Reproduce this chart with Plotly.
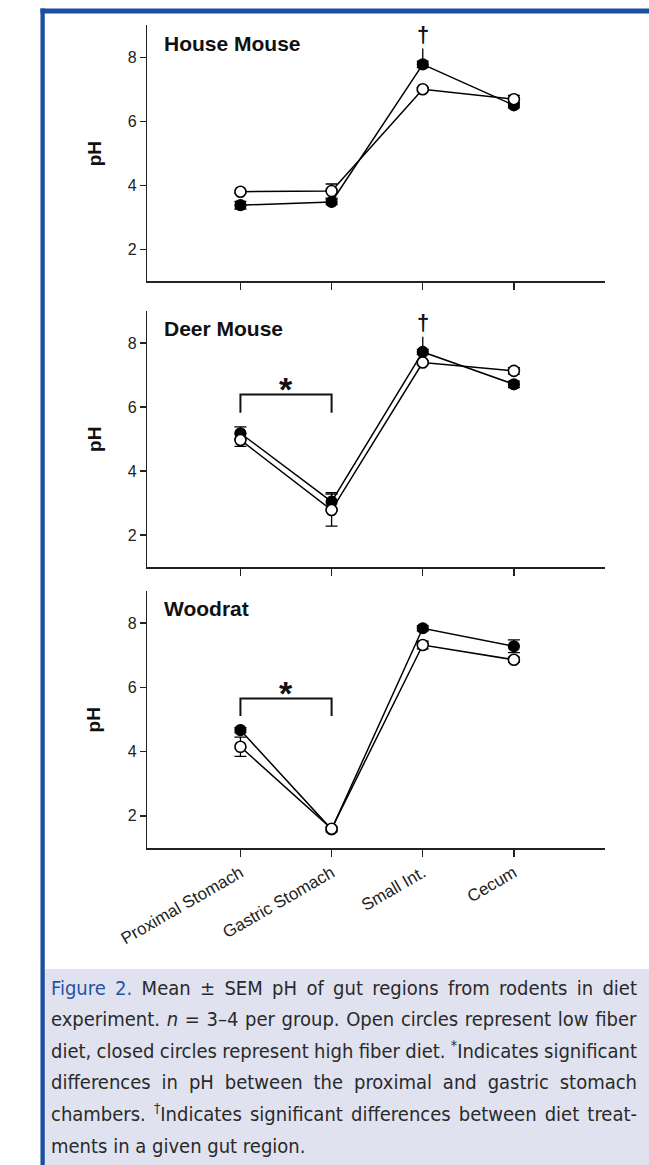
import plotly.graph_objects as go

W, H = 649, 1165

regions = ["Proximal Stomach", "Gastric Stomach", "Small Int.", "Cecum"]
panel_names = ["House Mouse", "Deer Mouse", "Woodrat"]

# low fiber diet (open circles)
house_low = [3.80, 3.82, 7.00, 6.69]
house_low_sem = [0.05, 0.22, 0.05, 0.12]
deer_low = [4.97, 2.78, 7.39, 7.13]
deer_low_sem = [0.20, 0.50, 0.05, 0.10]
wood_low = [4.15, 1.60, 7.32, 6.86]
wood_low_sem = [0.30, 0.06, 0.12, 0.08]

# high fiber diet (closed circles)
house_high = [3.38, 3.48, 7.78, 6.50]
house_high_sem = [0.12, 0.08, 0.10, 0.08]
deer_high = [5.18, 3.04, 7.72, 6.71]
deer_high_sem = [0.20, 0.28, 0.08, 0.10]
wood_high = [4.67, 1.58, 7.84, 7.28]
wood_high_sem = [0.08, 0.08, 0.08, 0.20]

yticks = [2, 4, 6, 8]
# significance marks
dagger_panels = [0, 1]           # diet difference at Small Int.
bracket_panels = [1, 2]          # proximal vs gastric
bracket_top = [None, 6.39, 5.65]
bracket_leg = [None, 5.82, 5.11]

caption_lines = [
    "<span style='color:#1f55a3'>Figure 2.</span> Mean \u00b1 SEM pH of gut regions from rodents in diet",
    "experiment. <i>n</i> = 3\u20134 per group. Open circles represent low fiber",
    "diet, closed circles represent high fiber diet. <sup>*</sup>Indicates significant",
    "differences in pH between the proximal and gastric stomach",
    "chambers. <sup>\u2020</sup>Indicates significant differences between diet treat-",
    "ments in a given gut region.",
]
justified_starts = ["Figure 2.", "experiment.", "diet, closed", "differences in pH", "chambers."]

lows = [house_low, deer_low, wood_low]
lows_sem = [house_low_sem, deer_low_sem, wood_low_sem]
highs = [house_high, deer_high, wood_high]
highs_sem = [house_high_sem, deer_high_sem, wood_high_sem]

# pixel layout
x_left, x_right = 124, 603
panel_px = [(25.3, 281.3), (311, 567), (591, 848)]

fig = go.Figure()
FONT = "Liberation Sans, Arial, sans-serif"

for i in range(3):
    ax = "" if i == 0 else str(i + 1)
    xa, ya = "x" + ax, "y" + ax
    fig.add_trace(go.Scatter(
        x=regions, y=highs[i], xaxis=xa, yaxis=ya, mode="lines+markers",
        line=dict(color="black", width=1.5),
        marker=dict(symbol="circle", size=11, color="black", line=dict(color="black", width=1.2)),
        error_y=dict(type="data", array=highs_sem[i], color="black", thickness=1.3, width=6),
        showlegend=False, cliponaxis=False))
    fig.add_trace(go.Scatter(
        x=regions, y=lows[i], xaxis=xa, yaxis=ya, mode="lines+markers",
        line=dict(color="black", width=1.5),
        marker=dict(symbol="circle", size=11, color="white", line=dict(color="black", width=1.6)),
        error_y=dict(type="data", array=lows_sem[i], color="black", thickness=1.3, width=6),
        showlegend=False, cliponaxis=False))

    top, bot = panel_px[i]
    dom_y = [1 - bot / H, 1 - top / H]
    xkey = "xaxis" if i == 0 else "xaxis" + str(i + 1)
    ykey = "yaxis" if i == 0 else "yaxis" + str(i + 1)
    fig.layout[xkey] = dict(
        domain=[x_left / W, x_right / W], anchor=ya, type="category",
        range=[-1.02, 4.0], showline=True, linecolor="#222", linewidth=1.5,
        ticks="outside", ticklen=7, tickwidth=1.5, tickcolor="#222",
        showgrid=False, zeroline=False, showticklabels=(i == 2),
        tickangle=-30, tickfont=dict(family=FONT, size=17, color="#222"))
    fig.layout[ykey] = dict(
        domain=dom_y, anchor=xa, range=[1, 9], tickvals=yticks,
        showline=True, linecolor="#222", linewidth=1.5,
        ticks="outside", ticklen=6, tickwidth=1.5, tickcolor="#222",
        showgrid=False, zeroline=False,
        tickfont=dict(family=FONT, size=16, color="#222"))

    # pH label
    fig.add_annotation(x=68 / W, xref="paper", y=1 - (top + bot) / 2 / H, yref="paper",
                       xanchor="center", yanchor="middle",
                       text="<b>pH</b>", textangle=-90, showarrow=False,
                       font=dict(family=FONT, size=19, color="#111"))
    # panel name
    fig.add_annotation(x=(139 - x_left) / (x_right - x_left), xref=xa + " domain",
                       y=0.93, yref=ya + " domain", xanchor="left", yanchor="middle",
                       text="<b>" + panel_names[i] + "</b>", showarrow=False,
                       font=dict(family=FONT, size=21, color="#111"))

    if i in dagger_panels:
        fig.add_annotation(x=regions[2], y=max(highs[i][2], lows[i][2]) + highs_sem[i][2] + 0.05,
                           xref=xa, yref=ya, text="<b>\u2020</b>", showarrow=True, arrowhead=0,
                           arrowwidth=1.4, arrowcolor="#111", ax=0, ay=-11, yanchor="bottom",
                           font=dict(family=FONT, size=22, color="#111"))
    if i in bracket_panels:
        bt, bl = bracket_top[i], bracket_leg[i]
        fig.add_shape(type="path", xref=xa, yref=ya,
                      path=f"M 0,{bl} L 0,{bt} L 1,{bt} L 1,{bl}",
                      line=dict(color="#111", width=2))
        fig.add_annotation(x=0.5, y=bt + 0.16, xref=xa, yref=ya, text="<b>*</b>",
                           showarrow=False, yanchor="middle",
                           font=dict(family=FONT, size=34, color="#111"))

# border and caption background
fig.add_shape(type="rect", xref="paper", yref="paper", x0=16 / W, x1=1.0,
              y0=0, y1=1 - 969 / H, fillcolor="#e0e2ef", line=dict(width=0), layer="below")
fig.add_shape(type="rect", xref="paper", yref="paper", x0=12 / W, x1=1.0,
              y0=1 - 13.5 / H, y1=1 - 8.5 / H, fillcolor="#1b4f9e", line=dict(width=0))
fig.add_shape(type="rect", xref="paper", yref="paper", x0=12 / W, x1=16.5 / W,
              y0=0, y1=1 - 8.5 / H, fillcolor="#1b4f9e", line=dict(width=0))

cap_y = [988, 1019, 1050, 1082, 1113, 1146]
for line, yy in zip(caption_lines, cap_y):
    fig.add_annotation(x=21 / W, xref="paper", y=1 - yy / H, yref="paper",
                       xanchor="left", yanchor="middle", text=line, showarrow=False,
                       font=dict(family="Liberation Sans Narrow, DejaVu Sans Condensed, Noto Sans, sans-serif",
                                 size=20, color="#2a2a2a"))

fig.update_layout(width=W, height=H, autosize=False,
                  margin=dict(l=0, r=0, t=0, b=0),
                  paper_bgcolor="white", plot_bgcolor="white")

starts_js = "[" + ",".join('"' + s + '"' for s in justified_starts) + "]"
post = """
document.body.style.margin='0';
document.body.style.overflow='hidden';
var gd = document.getElementById('{plot_id}');
var starts = STARTS;
var texts = gd.querySelectorAll('text.annotation-text');
for (var j = 0; j < texts.length; j++) {
  var t = texts[j];
  var s = t.textContent;
  for (var k = 0; k < starts.length; k++) {
    if (s.indexOf(starts[k]) === 0) {
      t.style.wordSpacing = '0px';
      var r0 = t.getBoundingClientRect();
      var n = (s.match(/[ \\u00a0]/g) || []).length;
      if (n > 0) {
        t.style.wordSpacing = ((637 - r0.right) / n) + 'px';
        var r1 = t.getBoundingClientRect();
        var dx = r0.left - r1.left;
        var x0 = parseFloat(t.getAttribute('x') || '0');
        t.setAttribute('x', x0 + dx);
      }
      break;
    }
  }
}
""".replace("STARTS", starts_js)

fig.write_html("out.html",
               config={"displayModeBar": False, "staticPlot": True},
               post_script=post)
